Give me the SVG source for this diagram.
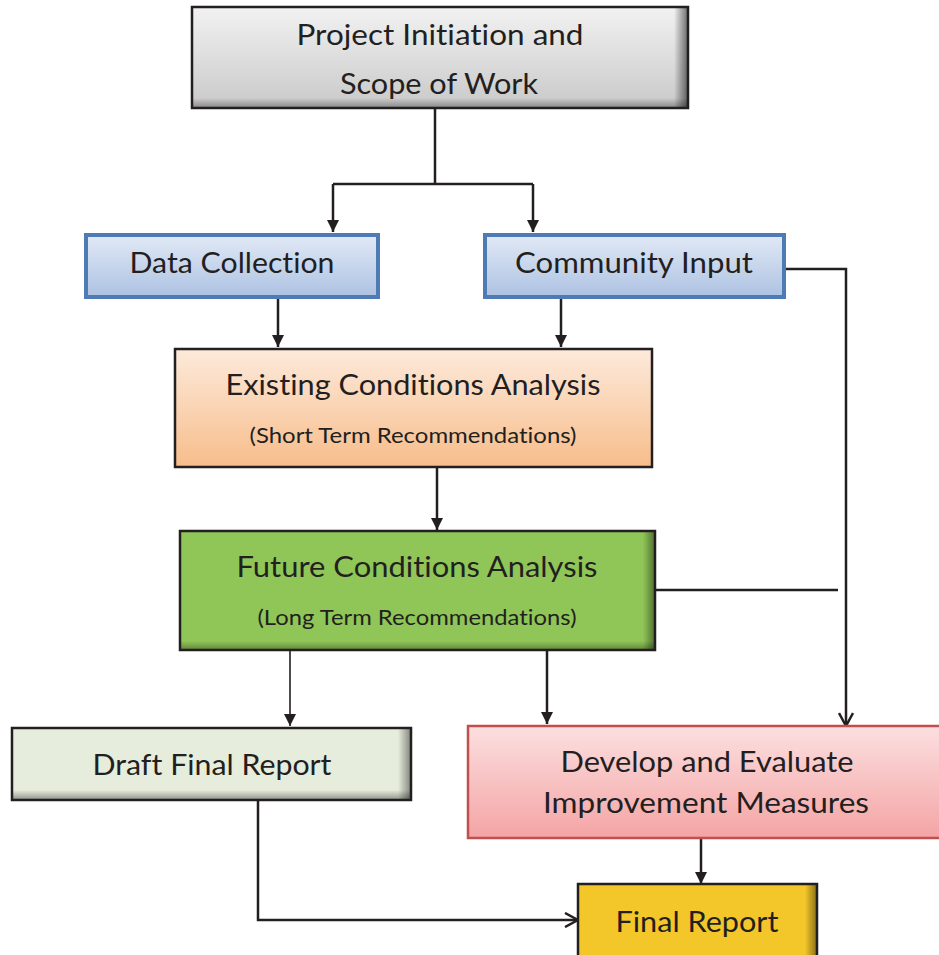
<svg xmlns="http://www.w3.org/2000/svg" width="939" height="955" viewBox="0 0 939 955">
<style>
  .t { font-family: Lato, "Liberation Sans", sans-serif; fill: #231f20; text-anchor: middle; font-variant-ligatures: none; }
  .big { font-size: 28px; }
  .sub { font-size: 22px; }
  .blk { stroke: #231f20; stroke-width: 2.5; }
  .con { fill: none; stroke: #231f20; stroke-width: 2.5; }
  .thin { stroke-width: 1.6; }
</style>
<defs>
  <linearGradient id="gGray" x1="0" y1="0" x2="0" y2="1">
    <stop offset="0" stop-color="#f2f2f2"/>
    <stop offset="1" stop-color="#c9c9c9"/>
  </linearGradient>
  <linearGradient id="gBlue" x1="0" y1="0" x2="0" y2="1">
    <stop offset="0" stop-color="#e1e9f6"/>
    <stop offset="1" stop-color="#adc2e2"/>
  </linearGradient>
  <linearGradient id="gPeach" x1="0" y1="0" x2="0" y2="1">
    <stop offset="0" stop-color="#fdeadb"/>
    <stop offset="1" stop-color="#f7bd8b"/>
  </linearGradient>
  <linearGradient id="gPink" x1="0" y1="0" x2="0" y2="1">
    <stop offset="0" stop-color="#fcdfe0"/>
    <stop offset="1" stop-color="#f4a4a4"/>
  </linearGradient>
  <linearGradient id="shR" x1="0" y1="0" x2="1" y2="0">
    <stop offset="0" stop-color="#000" stop-opacity="0"/>
    <stop offset="1" stop-color="#000" stop-opacity="0.55"/>
  </linearGradient>
  <linearGradient id="shB" x1="0" y1="0" x2="0" y2="1">
    <stop offset="0" stop-color="#000" stop-opacity="0"/>
    <stop offset="1" stop-color="#000" stop-opacity="0.55"/>
  </linearGradient>
  <marker id="aF" markerUnits="userSpaceOnUse" markerWidth="14" markerHeight="14" viewBox="0 0 14 14" refX="12" refY="7" orient="auto">
    <path d="M0,1 L12,7 L0,13 Z" fill="#231f20"/>
  </marker>
  <marker id="aO" markerUnits="userSpaceOnUse" markerWidth="16" markerHeight="16" viewBox="0 0 16 16" refX="14" refY="8" orient="auto">
    <path d="M1,1 L14,8 L1,15" fill="none" stroke="#231f20" stroke-width="2.5"/>
  </marker>
</defs>

<g id="connectors">
  <path class="con" d="M435,108 V184 M333,184 H533"/>
  <path class="con" d="M333,184 V232" marker-end="url(#aF)"/>
  <path class="con" d="M533,184 V232" marker-end="url(#aF)"/>
  <path class="con" d="M278,299 V347" marker-end="url(#aF)"/>
  <path class="con" d="M561,299 V347" marker-end="url(#aF)"/>
  <path class="con" d="M786,269 H846 V726" marker-end="url(#aO)"/>
  <path class="con" d="M437,468 V530" marker-end="url(#aF)"/>
  <path class="con" d="M655,590 H838"/>
  <path class="con thin" d="M290,650 V726" marker-end="url(#aF)"/>
  <path class="con" d="M547,650 V724" marker-end="url(#aF)"/>
  <path class="con" d="M701,838 V884" marker-end="url(#aF)"/>
  <path class="con" d="M258,800 V920 H578" marker-end="url(#aO)"/>
</g>

<g id="project-initiation">
  <rect x="192" y="7" width="496" height="101" fill="url(#gGray)"/>
  <rect x="674" y="7" width="14" height="101" fill="url(#shR)"/>
  <rect x="192" y="98" width="496" height="10" fill="url(#shB)" opacity="0.6"/>
  <rect x="192" y="7" width="496" height="101" fill="none" class="blk"/>
  <text class="t big" x="440" y="45" textLength="287" lengthAdjust="spacingAndGlyphs">Project Initiation and</text>
  <text class="t big" x="439" y="94" textLength="198" lengthAdjust="spacingAndGlyphs">Scope of Work</text>
</g>

<g id="data-collection">
  <rect x="86" y="235" width="292" height="62" fill="url(#gBlue)" stroke="#4f7bb5" stroke-width="4"/>
  <text class="t big" x="232" y="273" textLength="205" lengthAdjust="spacingAndGlyphs">Data Collection</text>
</g>

<g id="community-input">
  <rect x="485" y="235" width="299" height="62" fill="url(#gBlue)" stroke="#4f7bb5" stroke-width="4"/>
  <text class="t big" x="634" y="273" textLength="238" lengthAdjust="spacingAndGlyphs">Community Input</text>
</g>

<g id="existing-conditions">
  <rect x="175" y="349" width="477" height="118" fill="url(#gPeach)" class="blk"/>
  <text class="t big" x="413" y="395" textLength="375" lengthAdjust="spacingAndGlyphs">Existing Conditions Analysis</text>
  <text class="t sub" x="413" y="443" textLength="327" lengthAdjust="spacingAndGlyphs">(Short Term Recommendations)</text>
</g>

<g id="future-conditions">
  <rect x="180" y="531" width="475" height="119" fill="#8fc657"/>
  <rect x="643" y="531" width="12" height="119" fill="url(#shR)" opacity="0.8"/>
  <rect x="180" y="641" width="475" height="9" fill="url(#shB)" opacity="0.6"/>
  <rect x="180" y="531" width="475" height="119" fill="none" class="blk"/>
  <text class="t big" x="417" y="577" textLength="361" lengthAdjust="spacingAndGlyphs">Future Conditions Analysis</text>
  <text class="t sub" x="417" y="625" textLength="319" lengthAdjust="spacingAndGlyphs">(Long Term Recommendations)</text>
</g>

<g id="draft-final-report">
  <rect x="12" y="728" width="399" height="72" fill="#e6eddc"/>
  <rect x="398" y="728" width="13" height="72" fill="url(#shR)" opacity="0.8"/>
  <rect x="12" y="790" width="399" height="10" fill="url(#shB)" opacity="0.7"/>
  <rect x="12" y="728" width="399" height="72" fill="none" class="blk"/>
  <text class="t big" x="212" y="775" textLength="239" lengthAdjust="spacingAndGlyphs">Draft Final Report</text>
</g>

<g id="develop-evaluate">
  <rect x="468" y="726" width="476" height="112" fill="url(#gPink)" stroke="#c0504d" stroke-width="2.5"/>
  <text class="t big" x="707" y="772" textLength="293" lengthAdjust="spacingAndGlyphs">Develop and Evaluate</text>
  <text class="t big" x="706" y="813" textLength="326" lengthAdjust="spacingAndGlyphs">Improvement Measures</text>
</g>

<g id="final-report">
  <rect x="578" y="884" width="239" height="75" fill="#f3c62a"/>
  <rect x="805" y="884" width="12" height="75" fill="url(#shR)" opacity="0.8"/>
  <rect x="578" y="884" width="239" height="75" fill="none" class="blk"/>
  <text class="t big" x="697" y="932" textLength="163" lengthAdjust="spacingAndGlyphs">Final Report</text>
</g>
</svg>
